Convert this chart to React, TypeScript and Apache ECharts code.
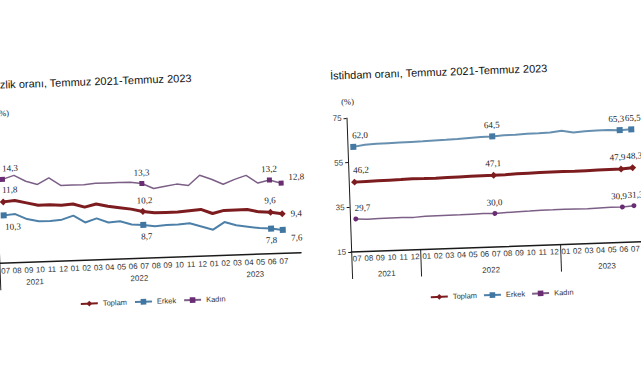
import React, { useEffect, useRef } from 'react';
import * as echarts from 'echarts';

// ---- data ----
const months = ['07','08','09','10','11','12','01','02','03','04','05','06','07','08','09','10','11','12','01','02','03','04','05','06','07',''];
const years = ['2021', '2022', '2023'];
const yearCenters = [6, 24, 44]; // half-month slots on the year axis
const rightSeparators = [0, 12, 36];
const leftSeparators = [0];

const unempTotal = [11.8, 11.9, 11.6, 11.3, 11.3, 11.2, 11.3, 10.9, 11.2, 10.9, 10.7, 10.5, 10.2, 10.0, 10.0, 10.0, 10.1, 10.2, 9.7, 10.0, 10.0, 10.0, 9.7, 9.6, 9.4];
const unempMale = [10.3, 10.4, 9.8, 9.5, 9.5, 9.6, 10.0, 9.2, 9.6, 9.1, 9.2, 8.8, 8.7, 8.5, 8.6, 8.6, 8.7, 8.3, 7.9, 8.7, 8.3, 8.1, 7.9, 7.8, 7.6];
const unempFemale = [14.3, 14.7, 14.0, 13.6, 14.3, 13.4, 13.4, 13.4, 13.5, 13.5, 13.5, 13.5, 13.3, 12.7, 12.9, 13.1, 12.9, 14.0, 13.5, 12.9, 13.4, 13.8, 12.9, 13.2, 12.8];

const empTotal = [46.2, 46.3, 46.4, 46.5, 46.6, 46.8, 46.7, 46.7, 46.8, 46.9, 47.0, 47.1, 47.1, 47.2, 47.4, 47.5, 47.6, 47.7, 47.7, 47.6, 47.7, 47.8, 47.9, 47.9, 48.3];
const empMale = [62.0, 62.8, 63.0, 63.1, 63.2, 63.3, 63.4, 63.6, 63.7, 63.9, 64.2, 64.4, 64.5, 64.8, 64.9, 65.1, 65.2, 65.4, 66.0, 65.0, 65.4, 65.5, 65.6, 65.3, 65.5];
const empFemale = [29.7, 29.4, 29.5, 29.6, 29.6, 29.5, 29.8, 29.9, 29.9, 29.9, 30.0, 30.1, 30.0, 30.2, 30.4, 30.5, 30.7, 30.7, 30.8, 30.7, 30.6, 30.8, 30.9, 30.9, 31.3];

const seriesNames = ['Toplam', 'Erkek', 'Kadın'];

// ---- layout (unrotated coords) ----
const OX = 20;
const OY = 20;
const STEP = 11.6;

type LabelSpec = { position: string; offset?: number[] };
const leftLabels: Record<string, Record<number, LabelSpec>> = {
  Toplam: { 0: { position: 'top', offset: [7, 0] }, 12: { position: 'top', offset: [2, 1] }, 23: { position: 'top' }, 24: { position: 'right', offset: [1, 0] } },
  Erkek: { 0: { position: 'bottom', offset: [9, 0] }, 12: { position: 'bottom', offset: [3, 0] }, 23: { position: 'bottom' }, 24: { position: 'right', offset: [1, 8] } },
  'Kadın': { 0: { position: 'top', offset: [8, 0] }, 12: { position: 'top' }, 23: { position: 'top' }, 24: { position: 'right', offset: [1, -6] } },
};
const rightLabels: Record<string, Record<number, LabelSpec>> = {
  Toplam: { 0: { position: 'top', offset: [7, 0] }, 12: { position: 'top' }, 23: { position: 'top', offset: [-3, 0] }, 24: { position: 'top', offset: [2, 0] } },
  Erkek: { 0: { position: 'top', offset: [7, 0] }, 12: { position: 'top' }, 23: { position: 'top', offset: [-3, 0] }, 24: { position: 'top', offset: [2, 0] } },
  'Kadın': { 0: { position: 'top', offset: [7, 0] }, 12: { position: 'top' }, 23: { position: 'top', offset: [-3, 0] }, 24: { position: 'top', offset: [2, 0] } },
};

const fmt = (p: any) => Number(p.value).toFixed(1).replace('.', ',');

function items(values: number[], specs: Record<number, LabelSpec>) {
  return values.map((v, i) => {
    const s = specs[i];
    if (!s) return { value: v, symbol: 'none' };
    return { value: v, label: { show: true, position: s.position, offset: s.offset || [0, 0] } };
  });
}

const colors = {
  total: '#7d1c1e',
  male: '#4d80a8',
  maleR: '#6790b0',
  female: '#7c5f86',
  femaleMarker: '#6a2c72',
};

function makeSeries(name: string, values: number[], specs: Record<number, LabelSpec>, axis: number, right: boolean) {
  const base: any = {
    type: 'line',
    name,
    xAxisIndex: axis * 2,
    yAxisIndex: axis,
    data: items(values, specs),
    smooth: false,
    label: { show: false, fontFamily: 'Liberation Serif', fontSize: 9, color: '#222', formatter: fmt, distance: 4 },
    emphasis: { disabled: true },
  };
  if (name === 'Toplam') {
    base.symbol = 'diamond';
    base.symbolSize = 7;
    base.itemStyle = { color: colors.total };
    base.lineStyle = { color: colors.total, width: 3 };
  } else if (name === 'Erkek') {
    base.symbol = 'rect';
    base.symbolSize = 6;
    base.itemStyle = { color: right ? '#4479a3' : '#3f76a2' };
    base.lineStyle = { color: right ? colors.maleR : colors.male, width: 2 };
  } else {
    base.symbol = right ? 'circle' : 'rect';
    base.symbolSize = 5;
    base.itemStyle = { color: colors.femaleMarker };
    base.lineStyle = { color: colors.female, width: 1.5 };
  }
  return base;
}

function yearAxisData() {
  return Array.from({ length: months.length * 2 + 1 }, (_, k) => {
    const j = yearCenters.indexOf(k);
    return j >= 0 ? years[j] : '';
  });
}

function monthAxis(grid: number, margin: number) {
  return {
    type: 'category',
    gridIndex: grid,
    data: months,
    boundaryGap: true,
    axisLine: { show: true, lineStyle: { color: '#1a1a1a', width: 1.5 } },
    axisTick: { show: false },
    axisLabel: { interval: 0, fontSize: 8, fontFamily: 'Liberation Sans', color: '#333', margin },
    splitLine: { show: false },
  };
}

function yearAxis(grid: number, seps: number[], margin: number) {
  return {
    type: 'category',
    gridIndex: grid,
    position: 'bottom',
    data: yearAxisData(),
    boundaryGap: false,
    axisLine: { show: false },
    axisTick: {
      show: true,
      length: 27,
      interval: (k: number) => seps.includes(k),
      lineStyle: { color: '#222', width: 1 },
    },
    axisLabel: {
      interval: (k: number) => yearCenters.includes(k),
      fontSize: 8,
      fontFamily: 'Liberation Sans',
      color: '#333',
      margin,
    },
    splitLine: { show: false },
  };
}

export default function App() {
  const ref = useRef<HTMLDivElement>(null);
  useEffect(() => {
    if (!ref.current) return;
    const chart = echarts.init(ref.current, undefined, { renderer: 'svg' });
    const W = STEP * months.length;
    const option: any = {
      animation: false,
      backgroundColor: 'transparent',
      grid: [
        { left: -2.8 + OX, top: 117 + OY, width: W, height: 135 },
        { left: 349 + OX, top: 119 + OY, width: W, height: 134 },
      ],
      xAxis: [
        monthAxis(0, 4),
        yearAxis(0, leftSeparators, 16),
        monthAxis(1, 3),
        yearAxis(1, rightSeparators, 19),
      ],
      yAxis: [
        {
          type: 'value', gridIndex: 0, min: 5, max: 20,
          axisLine: { show: true, lineStyle: { color: '#1a1a1a', width: 1 } },
          axisTick: { show: false }, axisLabel: { show: false }, splitLine: { show: false },
        },
        {
          type: 'value', gridIndex: 1, min: 15, max: 75, interval: 20,
          axisLine: { show: true, lineStyle: { color: '#1a1a1a', width: 1 } },
          axisTick: { show: true, length: 3, lineStyle: { color: '#1a1a1a' } },
          axisLabel: { fontSize: 8, fontFamily: 'Liberation Sans', color: '#444', margin: 5 },
          splitLine: { show: false },
        },
      ],
      legend: [
        {
          left: 76 + OX, top: 291.5 + OY, padding: 0, itemGap: 7, itemWidth: 17, itemHeight: 7,
          data: seriesNames, textStyle: { fontSize: 7.5, color: '#333', fontFamily: 'Liberation Sans' },
          selectedMode: false,
        },
        {
          left: 426 + OX, top: 297 + OY, padding: 0, itemGap: 6, itemWidth: 17, itemHeight: 7,
          data: seriesNames, textStyle: { fontSize: 7.5, color: '#333', fontFamily: 'Liberation Sans' },
          selectedMode: false,
        },
      ],
      graphic: [
        { type: 'text', x: -12.8 + OX, y: 73.5 + OY, style: { text: 'İşsizlik oranı, Temmuz 2021-Temmuz 2023', fontSize: 11, fontFamily: 'Liberation Sans', fill: '#111', verticalAlign: 'middle', align: 'left' } },
        { type: 'text', x: 334 + OX, y: 76 + OY, style: { text: 'İstihdam oranı, Temmuz 2021-Temmuz 2023', fontSize: 11, fontFamily: 'Liberation Sans', fill: '#111', verticalAlign: 'middle', align: 'left' } },
        { type: 'text', x: 5.5 + OX, y: 102 + OY, style: { text: '(%)', fontSize: 8.5, fontFamily: 'Liberation Serif', fill: '#222', verticalAlign: 'middle', align: 'center' } },
        { type: 'text', x: 350.6 + OX, y: 102.6 + OY, style: { text: '(%)', fontSize: 8.5, fontFamily: 'Liberation Serif', fill: '#222', verticalAlign: 'middle', align: 'center' } },
      ],
      series: [
        makeSeries('Toplam', unempTotal, leftLabels['Toplam'], 0, false),
        makeSeries('Erkek', unempMale, leftLabels['Erkek'], 0, false),
        makeSeries('Kadın', unempFemale, leftLabels['Kadın'], 0, false),
        makeSeries('Toplam', empTotal, rightLabels['Toplam'], 1, true),
        makeSeries('Erkek', empMale, rightLabels['Erkek'], 1, true),
        makeSeries('Kadın', empFemale, rightLabels['Kadın'], 1, true),
      ],
    };
    chart.setOption(option);
    return () => chart.dispose();
  }, []);

  return (
    <div style={{ position: 'fixed', left: 0, top: 0, width: 641, height: 380, overflow: 'hidden', background: '#fff' }}>
      <div
        ref={ref}
        style={{
          position: 'absolute',
          left: -OX,
          top: -OY,
          width: 700,
          height: 430,
          transform: 'rotate(-2deg)',
          transformOrigin: `${320.5 + OX}px ${190 + OY}px`,
        }}
      />
    </div>
  );
}
